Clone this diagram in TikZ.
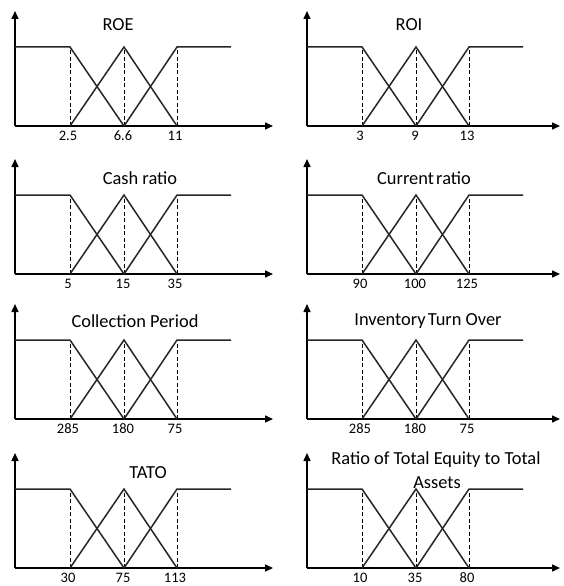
\documentclass[tikz,border=0pt]{standalone}
\usepackage{fontspec}
\setmainfont{Carlito}
\usetikzlibrary{arrows.meta}
\tikzset{
 axisline/.style={line width=1.5pt, -{Triangle[length=8pt,width=7pt]}},
 mf/.style={line width=1.5pt, line join=miter, draw=black!85},
 guide/.style={line width=1pt, dash pattern=on 4pt off 2.5pt},
 ticklbl/.style={font=\fontsize{14.5}{17}\selectfont, inner sep=0pt},
 ttl/.style={font=\fontsize{18.4}{21}\selectfont, inner sep=0pt, align=center},
}
\newcommand\fuzzy[7]{%
\begin{scope}[shift={(#1,#2)}]
\coordinate (#7o) at (0,0);
\coordinate (#7top) at (0,-115);
\coordinate (#7xt) at (#3,0);
\coordinate (#7p0) at (0,-79);
\coordinate (#7a1) at (55,0); \coordinate (#7h1) at (55,-79);
\coordinate (#7a2) at (109,0); \coordinate (#7h2) at (109,-79);
\coordinate (#7a3) at (162,0); \coordinate (#7h3) at (162,-79);
\coordinate (#7pe) at (216,-79);
\draw[axisline] (#7o) -- (#7top);
\draw[axisline] (#7o) -- (#7xt);
\draw[guide] (#7a1) -- (#7h1);
\draw[guide] (#7a2) -- (#7h2);
\draw[guide] (#7a3) -- (#7h3);
\draw[mf] (#7p0) -- (#7h1) -- (#7a2);
\draw[mf] (#7a1) -- (#7h2) -- (#7a3);
\draw[mf] (#7a2) -- (#7h3) -- (#7pe);
\node[ticklbl] (#7l1) at (53,9.5) {#4};
\node[ticklbl] (#7l2) at (108,9.5) {#5};
\node[ticklbl] (#7l3) at (160,9.5) {#6};
\end{scope}}
\begin{document}
\begin{tikzpicture}[x=1pt,y=-1pt]
\useasboundingbox (0,0) rectangle (564,586);
\fuzzy{15}{126}{258}{2.5}{6.6}{11}{A}
\fuzzy{307}{126}{253}{3}{9}{13}{B}
\fuzzy{15}{274}{258}{5}{15}{35}{C}
\fuzzy{307}{274}{253}{90}{100}{125}{D}
\fuzzy{15}{419}{258}{285}{180}{75}{E}
\fuzzy{307}{419}{253}{285}{180}{75}{F}
\fuzzy{15}{568}{258}{30}{75}{113}{G}
\fuzzy{307}{568}{253}{10}{35}{80}{H}
\node[ttl] (tA) at (118,25) {ROE};
\node[ttl] (tB) at (409,25) {ROI};
\node[ttl] (tC) at (140,178) {Cash ratio};
\node[ttl] (tD) at (424,178) {Current\hspace{0.12em}ratio};
\node[ttl] (tE) at (135,321) {Collection Period};
\node[ttl] (tF) at (428,321) {Inventory\hspace{0.12em}Turn Over};
\node[ttl] (tG) at (148,473) {TATO};
\node[ttl] (tH1) at (436,460) {Ratio of Total Equity to Total};
\node[ttl] (tH2) at (437,483) {Assets};
\end{tikzpicture}
\end{document}
